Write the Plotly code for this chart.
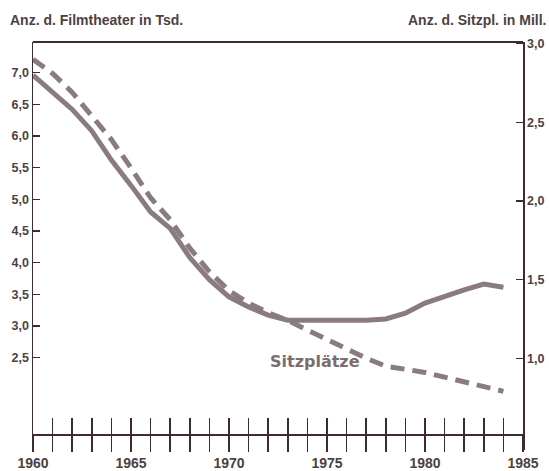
import plotly.graph_objects as go

# Data
years = list(range(1960, 1985))
filmtheater_tsd = [6.96, 6.70, 6.42, 6.08, 5.62, 5.22, 4.80, 4.54, 4.08, 3.73,
                   3.46, 3.30, 3.17, 3.09, 3.09, 3.09, 3.09, 3.09, 3.11, 3.20,
                   3.36, 3.47, 3.57, 3.66, 3.61]
sitzplaetze_mill = [2.90, 2.81, 2.69, 2.54, 2.39, 2.21, 2.02, 1.88, 1.70, 1.55,
                    1.43, 1.35, 1.29, 1.24, 1.18, 1.12, 1.06, 1.00, 0.95, 0.93,
                    0.91, 0.88, 0.85, 0.82, 0.79]

left_ticks = [2.5, 3.0, 3.5, 4.0, 4.5, 5.0, 5.5, 6.0, 6.5, 7.0]
right_ticks = [1.0, 1.5, 2.0, 2.5, 3.0]
x_ticks = list(range(1960, 1986))
x_ticktext = [str(y) if y % 5 == 0 else "" for y in x_ticks]

left_title = "Anz. d. Filmtheater in Tsd."
right_title = "Anz. d. Sitzpl. in Mill."
series_label = "Sitzplätze"

AX = "#3e2a2f"
TXT = "#4d3f43"
LINE = "#8a7b7f"
FONT = "Liberation Sans, Arial, sans-serif"

fig = go.Figure()
fig.add_trace(go.Scatter(x=years, y=filmtheater_tsd, mode="lines",
                         line=dict(color=LINE, width=5),
                         xaxis="x", yaxis="y", showlegend=False, hoverinfo="skip"))
fig.add_trace(go.Scatter(x=years, y=sitzplaetze_mill, mode="lines",
                         line=dict(color=LINE, width=5, dash="14px,8px"),
                         xaxis="x", yaxis="y2", showlegend=False, hoverinfo="skip"))
# empty helper trace so the second (inside-tick) x axis gets drawn
fig.add_trace(go.Scatter(x=[None], y=[None], mode="lines",
                         xaxis="x2", yaxis="y", showlegend=False, hoverinfo="skip"))

xpos = 16 / 408
fig.update_layout(
    width=549, height=471,
    margin=dict(l=33, r=26, t=42, b=21, autoexpand=False),
    paper_bgcolor="white", plot_bgcolor="white",
    separators=",.",
    showlegend=False,
    xaxis=dict(range=[1960, 1985], tickvals=x_ticks, ticktext=x_ticktext,
               ticks="outside", ticklen=16, tickwidth=1.5, tickcolor=AX,
               showline=True, linecolor=AX, linewidth=1.5,
               showgrid=False, zeroline=False,
               anchor="free", position=xpos, automargin=False,
               tickfont=dict(family=FONT, size=14, color=TXT, weight="bold")),
    xaxis2=dict(range=[1960, 1985], tickvals=x_ticks, overlaying="x",
                ticks="inside", ticklen=16, tickwidth=1.5, tickcolor=AX,
                showticklabels=False, showline=False, showgrid=False, zeroline=False,
                anchor="free", position=xpos, side="bottom", automargin=False),
    yaxis=dict(range=[1.04, 7.485], tickvals=left_ticks, tickformat=".1f",
               ticks="inside", ticklen=7, tickwidth=1.5, tickcolor=AX,
               showline=True, linecolor=AX, linewidth=1.5,
               showgrid=False, zeroline=False, automargin=False,
               tickfont=dict(family=FONT, size=12.5, color=TXT, weight="bold")),
    yaxis2=dict(range=[0.417, 3.01], tickvals=right_ticks, tickformat=".1f",
                overlaying="y", side="right", anchor="x",
                ticks="inside", ticklen=7, tickwidth=1.5, tickcolor=AX,
                showline=True, linecolor=AX, linewidth=1.5,
                showgrid=False, zeroline=False, automargin=False,
                tickfont=dict(family=FONT, size=12.5, color=TXT, weight="bold")),
    shapes=[dict(type="line", xref="paper", yref="paper", x0=0, x1=1, y0=1, y1=1,
                 line=dict(color=AX, width=2))],
    annotations=[
        dict(text=left_title, xref="paper", yref="paper", x=-0.051, y=1.055,
             xanchor="left", yanchor="middle", showarrow=False,
             font=dict(family=FONT, size=14, color=TXT, weight="bold")),
        dict(text=right_title, xref="paper", yref="paper", x=1.052, y=1.055,
             xanchor="right", yanchor="middle", showarrow=False,
             font=dict(family=FONT, size=14, color=TXT, weight="bold")),
        dict(text=series_label, xref="paper", yref="paper", x=0.5755, y=0.2157,
             xanchor="center", yanchor="middle", showarrow=False,
             font=dict(family="DejaVu Sans", size=16, color="#7a6c70", weight="bold")),
    ],
)

fig.write_html("out.html",
               config={"displayModeBar": False, "staticPlot": True},
               post_script="document.body.style.margin='0';document.body.style.overflow='hidden';")
